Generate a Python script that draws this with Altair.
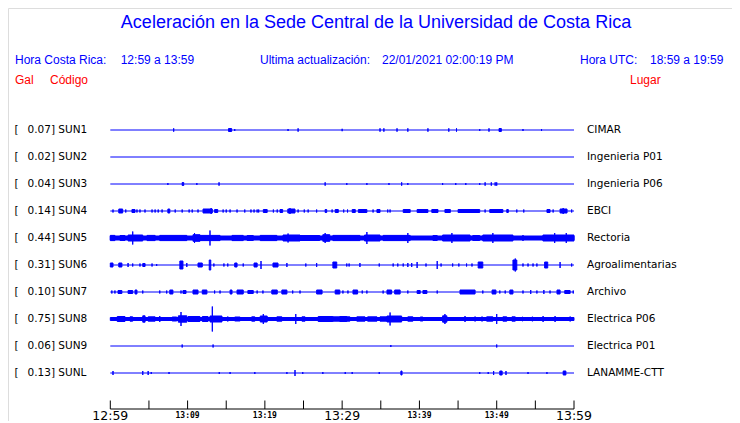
import altair as alt
import pandas as pd

# ---------------- data ----------------
stations = ["SUN1", "SUN2", "SUN3", "SUN4", "SUN5", "SUN6", "SUN7", "SUN8", "SUN9", "SUNL"]
peaks = [0.07, 0.02, 0.04, 0.14, 0.44, 0.31, 0.10, 0.75, 0.06, 0.13]
places = ["CIMAR", "Ingenieria P01", "Ingenieria P06", "EBCI", "Rectoria",
          "Agroalimentarias", "Archivo", "Electrica P06", "Electrica P01", "LANAMME-CTT"]

tick_minutes = [0, 5, 10, 15, 20, 25, 30, 35, 40, 45, 50, 55, 60]
major_minutes = [0, 30, 60]
major_labels = ["12:59", "13:29", "13:59"]
minor_minutes = [10, 20, 40, 50]
minor_labels = ["13:09", "13:19", "13:39", "13:49"]

# events: (start minute, end minute, half amplitude) ; minutes after 12:59
sun1_events = [(8.2, 8.2, 1.7), (15.3, 15.7, 1.5), (16.1, 16.1, 1), (23.0, 23.0, 1), (24.3, 24.3, 1.7),
               (30.0, 30.0, 1.2), (34.9, 34.9, 1.7), (35.4, 35.4, 1.7), (37.1, 37.1, 1.7), (38.5, 38.5, 1.7),
               (41.1, 41.1, 1.7), (43.8, 43.8, 1.7), (44.8, 44.8, 1.7), (47.8, 47.8, 1), (49.0, 49.0, 1.7),
               (50.3, 50.6, 1.5), (53.4, 53.4, 1), (55.8, 55.8, 1)]
sun2_events = []
sun3_events = [(7.45, 7.45, 1), (9.3, 9.5, 1.5), (11.2, 11.2, 1), (14.07, 14.07, 1.7), (27.8, 27.8, 1.7),
               (30.6, 30.6, 1), (33.2, 33.2, 1), (36.06, 36.06, 1), (37.7, 37.7, 1.7), (38.5, 38.5, 1),
               (43.0, 43.0, 1), (44.7, 44.7, 1), (46.0, 46.0, 1), (47.8, 47.8, 1), (48.5, 48.5, 1.7),
               (49.3, 49.3, 1.7), (49.8, 49.8, 1.7), (50.0, 50.0, 1.7)]
sun4_events = [(0.35, 0.35, 1.5), (1.1, 1.6, 2), (2.0, 2.0, 1.5), (2.8, 3.2, 1.5), (3.45, 3.45, 1.5),
               (3.84, 3.84, 1.5), (4.49, 4.49, 1.5), (5.4, 5.4, 1.5), (5.8, 5.8, 1.5), (6.2, 6.2, 1.5),
               (6.7, 6.7, 1.5), (7.45, 7.7, 2), (8.4, 8.4, 1.5), (9.3, 9.3, 1.5), (10.2, 10.2, 1.5),
               (10.6, 10.6, 1.5), (11.35, 11.35, 1.5), (12.0, 13.2, 2), (13.05, 13.05, 3), (13.5, 13.9, 1.5),
               (14.6, 14.6, 1.5), (15.0, 15.0, 1.5), (15.5, 15.5, 1.5), (16.4, 16.4, 1.5), (17.4, 17.4, 1.5),
               (18.2, 18.2, 1.5), (18.6, 18.6, 1.5), (19.0, 19.0, 1.5), (19.2, 19.2, 1.5), (19.8, 20.3, 1.5),
               (21.1, 21.1, 1.5), (21.6, 21.6, 1.5), (21.96, 22.3, 1.5), (22.97, 23.9, 2), (23.25, 23.25, 3),
               (24.3, 24.3, 1.5), (25.1, 25.1, 1.5), (25.6, 25.6, 1.5), (26.7, 26.7, 1.5), (27.8, 28.0, 1.5),
               (28.7, 28.7, 1.5), (29.1, 29.5, 1.5), (30.2, 30.2, 1.5), (30.7, 30.7, 1.5), (31.3, 31.7, 1.5),
               (32.1, 33.2, 1.5), (34.0, 34.0, 1.5), (34.5, 34.9, 1.5), (35.9, 35.9, 1.5), (36.2, 36.2, 1.5),
               (37.9, 38.8, 1.5), (39.7, 41.1, 1.5), (41.6, 42.4, 1.5), (43.3, 44.0, 1.5), (45.0, 47.8, 1.5),
               (48.5, 48.5, 1.5), (49.1, 50.8, 1.5), (51.3, 51.5, 1.5), (52.6, 52.6, 1.5), (53.5, 53.5, 1.5),
               (56.5, 56.9, 1.5), (57.3, 57.3, 1.5), (58.2, 59.1, 2), (58.6, 58.6, 3), (59.7, 59.7, 1.5)]
sun5_events = [(0.0, 60.0, 2.0), (0.0, 0.6, 2.6), (1.26, 1.9, 2.5), (2.3, 4.2, 3), (2.9, 2.9, 6.5),
               (4.75, 5.8, 2.6), (6.4, 9.9, 2.6), (10.7, 11.6, 3.3), (10.9, 10.9, 5), (11.6, 14.2, 2.6),
               (12.9, 12.9, 7.5), (15.75, 17.2, 2.6), (17.7, 18.5, 2.5), (19.4, 21.55, 2.6), (22.35, 24.55, 3),
               (23.0, 23.0, 4.5), (24.55, 27.1, 2.5), (27.5, 28.4, 3.3), (27.8, 27.8, 5), (28.8, 31.0, 2.6),
               (31.0, 32.3, 2.6), (32.9, 34.9, 3), (33.2, 33.2, 6), (35.3, 38.8, 2.6), (38.5, 38.5, 5),
               (41.75, 42.3, 2.5), (43.0, 46.55, 3), (44.2, 44.2, 5), (46.9, 47.8, 2.5), (48.2, 52.1, 3),
               (49.5, 49.5, 5), (53.4, 53.4, 3), (55.98, 60.0, 3), (57.5, 57.5, 5), (59.0, 59.0, 5)]
sun6_events = [(0.0, 0.35, 2), (1.1, 1.5, 2), (2.3, 2.3, 2), (2.9, 2.9, 1.5), (3.84, 3.84, 1.5),
               (4.2, 4.5, 1.5), (5.4, 5.4, 1.5), (6.0, 6.0, 1), (9.0, 9.4, 4), (9.9, 9.9, 2),
               (11.35, 11.9, 2), (12.8, 13.0, 5), (13.4, 13.4, 1.5), (14.7, 14.7, 1.5), (15.2, 15.2, 1.5),
               (16.1, 16.4, 2), (17.2, 17.2, 1.5), (18.6, 19.0, 2), (19.5, 19.5, 4), (21.05, 21.7, 2),
               (22.85, 22.85, 2), (25.3, 25.3, 1.5), (26.7, 26.7, 2), (28.8, 29.3, 3), (30.6, 30.6, 1.5),
               (30.9, 30.9, 1.5), (32.3, 32.3, 2), (34.8, 34.8, 1.5), (36.6, 36.6, 1.5), (37.2, 37.2, 1.5),
               (37.9, 37.9, 1.5), (38.5, 38.5, 2), (39.0, 39.0, 2), (39.7, 39.7, 3), (40.85, 40.85, 1.5),
               (42.3, 42.3, 4), (42.8, 42.8, 1.5), (44.3, 44.3, 1.5), (45.1, 45.1, 1.5), (46.1, 46.1, 1.5),
               (46.8, 46.8, 1.5), (47.6, 48.2, 3), (52.1, 52.6, 5), (52.4, 52.4, 6.5), (53.4, 53.4, 1.5),
               (54.05, 54.05, 1.5), (54.7, 54.7, 1.5), (55.2, 55.2, 1.5), (56.2, 56.6, 3), (58.2, 58.2, 3),
               (59.7, 59.7, 1.5)]
sun7_events = [(0.2, 0.2, 1.5), (0.6, 0.6, 1.5), (1.0, 1.5, 1.5), (2.3, 2.9, 1.5), (3.2, 3.45, 2),
               (4.2, 4.2, 1.5), (6.4, 6.4, 1.5), (7.3, 7.3, 1.5), (7.7, 8.1, 2), (9.15, 9.15, 1.5),
               (9.4, 9.8, 1.5), (10.7, 11.35, 2), (11.9, 12.5, 2), (13.5, 13.5, 1.5), (14.2, 14.2, 1.5),
               (15.5, 15.75, 2), (16.4, 17.2, 2), (17.8, 18.5, 1.5), (19.0, 19.0, 1.5), (19.75, 19.75, 1.5),
               (20.9, 21.6, 2), (22.2, 22.85, 2), (23.6, 23.6, 1.5), (24.55, 24.55, 1.5), (26.7, 27.4, 2),
               (29.1, 29.7, 2), (30.1, 30.1, 1.5), (30.75, 30.75, 1.5), (31.4, 32.0, 2), (32.6, 32.6, 1.5),
               (33.2, 33.2, 1.5), (35.3, 35.3, 1.5), (35.8, 36.4, 2), (36.8, 37.5, 2), (38.5, 38.5, 1.5),
               (39.7, 40.1, 1.5), (40.45, 40.97, 1.5), (42.3, 42.3, 1.5), (45.25, 47.2, 2), (48.2, 48.2, 1.5),
               (49.4, 49.9, 2), (50.4, 50.4, 1.5), (51.1, 51.1, 1.5), (51.7, 52.1, 2), (53.4, 53.4, 1.5),
               (54.4, 54.4, 2), (55.2, 55.2, 1.5), (56.1, 56.1, 2), (56.9, 56.9, 1.5), (57.8, 58.2, 2),
               (58.8, 59.5, 1.5), (59.9, 59.9, 1.5)]
sun8_events = [(0.0, 60.0, 1.5), (0.9, 1.9, 2.5), (2.55, 2.9, 2.2), (4.2, 4.5, 3.2), (4.9, 5.8, 2.2),
               (6.4, 6.4, 3), (8.0, 8.6, 2), (8.8, 9.9, 3.2), (9.15, 9.15, 7), (10.05, 11.6, 2.5),
               (11.9, 12.65, 2.5), (12.9, 14.45, 3), (13.2, 13.2, 12.5), (15.2, 15.2, 2.5), (16.1, 16.8, 2),
               (18.3, 18.7, 2.2), (19.4, 20.3, 3), (19.8, 19.8, 5), (21.55, 22.2, 2.2), (24.0, 24.0, 5),
               (24.8, 25.2, 2.2), (26.9, 28.8, 2.5), (28.8, 31.0, 2.2), (29.7, 30.6, 2.5), (31.9, 32.95, 2.2),
               (33.3, 34.5, 2.2), (34.9, 35.8, 2.2), (35.8, 37.7, 3), (36.2, 36.2, 6.5), (38.5, 39.15, 2.2),
               (40.1, 40.45, 2), (43.0, 43.55, 3.2), (43.3, 43.3, 5), (45.9, 45.9, 3), (47.2, 47.2, 2.5),
               (48.1, 48.1, 2.5), (48.7, 49.5, 2.2), (50.0, 50.0, 5), (50.8, 51.3, 2.2), (51.97, 52.4, 2.2),
               (53.3, 53.4, 2), (54.55, 54.7, 2), (56.0, 56.0, 3), (57.55, 57.55, 3), (59.5, 59.5, 2.5)]
sun9_events = [(9.3, 9.3, 1.5), (13.3, 13.3, 1.5), (36.3, 36.3, 1), (50.0, 50.0, 1.5)]
sunl_events = [(0.35, 0.35, 2), (4.2, 4.2, 2), (4.9, 4.9, 2), (5.3, 5.3, 1), (7.6, 7.6, 1),
               (14.1, 14.1, 1), (15.5, 15.5, 1), (18.7, 18.7, 1), (22.85, 22.85, 1), (23.9, 23.9, 3),
               (24.9, 24.9, 1), (27.5, 27.5, 1), (30.4, 30.4, 1), (31.3, 31.3, 1), (34.8, 34.8, 1),
               (37.6, 37.75, 2), (47.8, 47.8, 1), (48.9, 48.9, 1), (49.6, 49.6, 2), (50.4, 50.7, 2),
               (51.2, 51.2, 2), (54.05, 54.05, 1), (56.5, 56.5, 1), (58.6, 58.95, 2)]

all_events = [sun1_events, sun2_events, sun3_events, sun4_events, sun5_events,
              sun6_events, sun7_events, sun8_events, sun9_events, sunl_events]

# ---------------- tables ----------------
ROW = 27  # vertical units between traces
BLUE = "#0000ff"
RED = "#ff0000"

rows = pd.DataFrame({
    "station": stations,
    "row": [i * ROW for i in range(len(stations))],
    "peak": [f"{p:.2f}] {s}" for p, s in zip(peaks, stations)],
    "place": places,
    "t0": [0] * len(stations),
    "t1": [60] * len(stations),
})

ev = []
for i, lst in enumerate(all_events):
    for (a, b, amp) in lst:
        ev.append({"station": stations[i], "t0": a, "t1": b,
                   "lo": i * ROW - amp, "hi": i * ROW + amp})
events = pd.DataFrame(ev)

xs = alt.Scale(domain=[0, 60], range=[102.3, 566])
ys = alt.Scale(domain=[0, 243], range=[122, 365], clamp=False)

baseline = alt.Chart(rows).mark_rule(color=BLUE, strokeWidth=1).encode(
    x=alt.X("t0:Q", scale=xs, axis=None), x2="t1:Q",
    y=alt.Y("row:Q", scale=ys, axis=None))

bursts = alt.Chart(events).mark_rect(color=BLUE, stroke=BLUE, strokeWidth=1).encode(
    x=alt.X("t0:Q", scale=xs, axis=None), x2="t1:Q",
    y=alt.Y("lo:Q", scale=ys, axis=None), y2="hi:Q")

FONT_L = "DejaVu Sans"
bracket = alt.Chart(rows).mark_text(align="left", baseline="middle", font=FONT_L,
                                    fontSize=10.5, color="black", text="[").encode(
    x=alt.value(6.5), y=alt.Y("row:Q", scale=ys, axis=None))
left_lbl = alt.Chart(rows).mark_text(align="left", baseline="middle", font=FONT_L,
                                     fontSize=10.5, color="black").encode(
    x=alt.value(19.5), y=alt.Y("row:Q", scale=ys, axis=None), text="peak:N")
right_lbl = alt.Chart(rows).mark_text(align="left", baseline="middle", font=FONT_L,
                                      fontSize=10.5, color="black").encode(
    x=alt.value(579), y=alt.Y("row:Q", scale=ys, axis=None), text="place:N")

# time axis
axis_line = alt.Chart(pd.DataFrame({"a": [0], "b": [60]})).mark_rule(color="black", strokeWidth=1).encode(
    x=alt.X("a:Q", scale=xs, axis=None), x2="b:Q", y=alt.value(401))
ticks = alt.Chart(pd.DataFrame({"m": tick_minutes})).mark_rule(color="black", strokeWidth=1).encode(
    x=alt.X("m:Q", scale=xs, axis=None), y=alt.value(392.5), y2=alt.value(401))
major = alt.Chart(pd.DataFrame({"m": major_minutes, "l": major_labels})).mark_text(
    align="center", baseline="alphabetic", font="DejaVu Sans", fontSize=12.5, color="black").encode(
    x=alt.X("m:Q", scale=xs, axis=None), y=alt.value(411.5), text="l:N")
minor = alt.Chart(pd.DataFrame({"m": minor_minutes, "l": minor_labels})).mark_text(
    align="center", baseline="alphabetic", font="DejaVu Sans Mono", fontSize=8, fontWeight="bold",
    color="black").encode(
    x=alt.X("m:Q", scale=xs, axis=None), y=alt.value(410), text="l:N")


def label(text, x, y, size, color, align="left", font="Liberation Sans"):
    return alt.Chart(pd.DataFrame({"t": [text]})).mark_text(
        align=align, baseline="alphabetic", font=font, fontSize=size, color=color).encode(
        x=alt.value(x), y=alt.value(y), text="t:N")


title = label("Aceleración en la Sede Central de la Universidad de Costa Rica", 368, 20, 18, BLUE, "center")
h1 = label("Hora Costa Rica:", 7, 56.3, 12, BLUE)
h2 = label("12:59 a 13:59", 112.7, 56.3, 12, BLUE)
h3 = label("Ultima actualización:", 252, 56.3, 12, BLUE)
h4 = label("22/01/2021 02:00:19 PM", 374, 56.3, 12, BLUE)
h5 = label("Hora UTC:", 572, 56.3, 12, BLUE)
h6 = label("18:59 a 19:59", 642, 56.3, 12, BLUE)
r1 = label("Gal", 7, 76.3, 12, RED)
r2 = label("Código", 42, 76.3, 12, RED)
r3 = label("Lugar", 622, 76.3, 12, RED)

chart = alt.layer(
    baseline, bursts, bracket, left_lbl, right_lbl,
    axis_line, ticks, major, minor,
    title, h1, h2, h3, h4, h5, h6, r1, r2, r3,
).properties(
    width=724, height=413, padding=0,
    autosize=alt.AutoSizeParams(type="none"),
).configure_view(stroke=None).configure(background="white")

chart.save("out.html", embed_options={"renderer": "svg", "actions": False})
